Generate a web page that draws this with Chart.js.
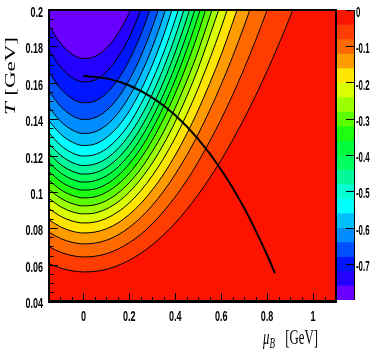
<!DOCTYPE html>
<html>
<head>
<meta charset="utf-8">
<script src="https://cdn.jsdelivr.net/npm/chart.js@4.4.1/dist/chart.umd.min.js"></script>
<style>
  html, body { margin: 0; padding: 0; background: #fff; }
  #wrap { position: relative; width: 382px; height: 354px; }
  #main { position: absolute; left: 0; top: 0; }
  #palette { position: absolute; left: 330px; top: 0; }
</style>
</head>
<body>
<div id="wrap">
  <canvas id="main" width="382" height="354"></canvas>
  <canvas id="palette" width="52" height="354"></canvas>
</div>
<script>
// mu_B grid (GeV) shared by every contour line
const muGrid = [-0.15, -0.1, -0.05, 0, 0.05, 0.1, 0.15, 0.2, 0.25, 0.3, 0.35, 0.4, 0.45, 0.5, 0.6, 0.7, 0.8, 0.9, 1.0];

// T (GeV) of each contour along muGrid (last value lies just past the top)
const c04 = [0.0605, 0.0581, 0.0566, 0.0560, 0.0563, 0.0574, 0.0595, 0.0624, 0.0662, 0.0709, 0.0765, 0.0829, 0.0903, 0.0985, 0.1176, 0.1403, 0.1665, 0.1962, 0.2295];
const c08 = [0.0698, 0.0668, 0.0650, 0.0642, 0.0646, 0.0660, 0.0685, 0.0721, 0.0767, 0.0825, 0.0894, 0.0973, 0.1063, 0.1165, 0.1400, 0.1678, 0.2000, 0.2366];
const c12 = [0.0778, 0.0744, 0.0723, 0.0714, 0.0718, 0.0734, 0.0763, 0.0805, 0.0859, 0.0926, 0.1005, 0.1097, 0.1201, 0.1318, 0.1590, 0.1912, 0.2284];
const c16 = [0.0846, 0.0808, 0.0784, 0.0774, 0.0779, 0.0797, 0.0829, 0.0876, 0.0936, 0.1011, 0.1099, 0.1202, 0.1319, 0.1450, 0.1754, 0.2114];
const c20 = [0.0908, 0.0866, 0.0840, 0.0829, 0.0834, 0.0854, 0.0890, 0.0940, 0.1007, 0.1089, 0.1186, 0.1298, 0.1426, 0.1570, 0.1903, 0.2298];
const c24 = [0.0964, 0.0919, 0.0891, 0.0879, 0.0884, 0.0906, 0.0944, 0.0999, 0.1071, 0.1159, 0.1264, 0.1386, 0.1525, 0.1680, 0.2040];
const c28 = [0.1014, 0.0966, 0.0936, 0.0923, 0.0929, 0.0952, 0.0993, 0.1051, 0.1127, 0.1222, 0.1333, 0.1463, 0.1610, 0.1775, 0.2158];
const c32 = [0.1064, 0.1013, 0.0981, 0.0967, 0.0973, 0.0998, 0.1041, 0.1103, 0.1185, 0.1285, 0.1404, 0.1542, 0.1699, 0.1874, 0.2282];
const c36 = [0.1112, 0.1058, 0.1024, 0.1010, 0.1016, 0.1042, 0.1088, 0.1154, 0.1240, 0.1346, 0.1471, 0.1617, 0.1783, 0.1968, 0.2399];
const c40 = [0.1161, 0.1105, 0.1069, 0.1054, 0.1061, 0.1088, 0.1136, 0.1205, 0.1295, 0.1407, 0.1539, 0.1692, 0.1865, 0.2060];
const c44 = [0.1211, 0.1151, 0.1114, 0.1098, 0.1105, 0.1134, 0.1185, 0.1257, 0.1352, 0.1469, 0.1608, 0.1769, 0.1952, 0.2158];
const c48 = [0.1265, 0.1202, 0.1162, 0.1145, 0.1153, 0.1183, 0.1237, 0.1314, 0.1414, 0.1538, 0.1685, 0.1855, 0.2049];
const c52 = [0.1324, 0.1257, 0.1215, 0.1197, 0.1205, 0.1237, 0.1294, 0.1375, 0.1482, 0.1613, 0.1768, 0.1948, 0.2153];
const c56 = [0.1390, 0.1319, 0.1274, 0.1255, 0.1263, 0.1298, 0.1358, 0.1445, 0.1559, 0.1698, 0.1864, 0.2057];
const c60 = [0.1465, 0.1389, 0.1341, 0.1321, 0.1330, 0.1367, 0.1432, 0.1525, 0.1646, 0.1795, 0.1973, 0.2179];
const c64 = [0.1552, 0.1471, 0.1420, 0.1398, 0.1408, 0.1447, 0.1516, 0.1616, 0.1745, 0.1905, 0.2095];
const c68 = [0.1656, 0.1568, 0.1513, 0.1490, 0.1499, 0.1542, 0.1617, 0.1724, 0.1865, 0.2037];
const c72 = [0.1780, 0.1687, 0.1629, 0.1605, 0.1615, 0.1660, 0.1739, 0.1852, 0.2000, 0.2182];
const c76 = [0.1913, 0.1818, 0.1758, 0.1734, 0.1744, 0.1790, 0.1870, 0.1986, 0.2137];

const contourLevels = [-0.04, -0.08, -0.12, -0.16, -0.2, -0.24, -0.28, -0.32, -0.36, -0.4,
                       -0.44, -0.48, -0.52, -0.56, -0.6, -0.64, -0.68, -0.72, -0.76];
const contourT = [c04, c08, c12, c16, c20, c24, c28, c32, c36, c40,
                  c44, c48, c52, c56, c60, c64, c68, c72, c76];

// palette bands, from 0 (top) down to -0.8
const bandStep = 0.04;
const paletteColors = [
  "#fc1400", "#ff3d00", "#ff6a00", "#ff9c00", "#ffe600",
  "#d9ff00", "#9cff00", "#5cff00", "#1eff10", "#00ff3a",
  "#00ff60", "#00f79a", "#00ffd2", "#00ffff", "#00bfff",
  "#008cff", "#0050ff", "#0016ff", "#2600ff", "#6a00ff",
];

// thick black curve
const phaseMu = [0, 0.1, 0.2, 0.3, 0.4, 0.5, 0.6, 0.7, 0.8, 0.834];
const phaseT = [0.1637, 0.1624, 0.1585, 0.1518, 0.1421, 0.1290, 0.1122, 0.0912, 0.0653, 0.0553];

const xTicks = [0, 0.2, 0.4, 0.6, 0.8, 1];
const yTicks = [0.04, 0.06, 0.08, 0.1, 0.12, 0.14, 0.16, 0.18, 0.2];
const zTicks = [0, -0.1, -0.2, -0.3, -0.4, -0.5, -0.6, -0.7];

const fmt = (v) => String(+v.toFixed(2));

// narrow text, like the squeezed ROOT fonts
function squeezed(ctx, text, x, y, font, align, sx) {
    ctx.save();
    ctx.translate(x, y);
    ctx.scale(sx, 1);
    ctx.font = font;
    ctx.textAlign = align;
    ctx.textBaseline = "alphabetic";
    ctx.fillStyle = "#000";
    ctx.fillText(text, 0, 0);
    ctx.restore();
}

const frame = {
    id: "frame",
    beforeDraw(chart) {
        const { ctx, chartArea: a } = chart;
        ctx.save();
        ctx.fillStyle = paletteColors[0];
        ctx.fillRect(a.left, a.top, a.right - a.left, a.bottom - a.top);
        ctx.restore();
    },
    afterDraw(chart) {
        const { ctx, chartArea: a } = chart;
        const x = chart.scales.x, y = chart.scales.y;
        ctx.save();
        ctx.strokeStyle = "#000";
        ctx.lineWidth = 1;
        ctx.beginPath();
        // ticks on the bottom axis, pointing up
        for (let i = -3; i <= 22; i++) {
            const px = Math.round(x.getPixelForValue(i * 0.05)) + 0.5;
            const len = i % 4 === 0 ? 8 : 4;
            ctx.moveTo(px, a.bottom);
            ctx.lineTo(px, a.bottom - len);
        }
        // ticks on the left axis, pointing right
        for (let i = 8; i <= 40; i++) {
            const py = Math.round(y.getPixelForValue(i * 0.005)) + 0.5;
            const len = i % 4 === 0 ? 9 : 4.5;
            ctx.moveTo(a.left, py);
            ctx.lineTo(a.left + len, py);
        }
        ctx.stroke();
        // frame
        ctx.lineWidth = 2;
        ctx.strokeRect(a.left, a.top, a.right - a.left, a.bottom - a.top);
        ctx.lineWidth = 3;
        ctx.beginPath();
        ctx.moveTo(a.left - 1, a.bottom + 0.5);
        ctx.lineTo(a.right + 1, a.bottom + 0.5);
        ctx.stroke();
        ctx.restore();

        // tick labels
        const tickFont = "bold 15px 'Liberation Sans', Arial, sans-serif";
        x.ticks.forEach((t) => {
            squeezed(ctx, fmt(t.value), x.getPixelForValue(t.value), 320.5, tickFont, "center", 0.6);
        });
        y.ticks.forEach((t) => {
            squeezed(ctx, fmt(t.value), 43, y.getPixelForValue(t.value) + 7, tickFont, "right", 0.6);
        });

        // y title: T [GeV]
        ctx.save();
        ctx.translate(15, 115);
        ctx.rotate(-Math.PI / 2);
        ctx.scale(1, 0.67);
        ctx.fillStyle = "#000";
        ctx.textBaseline = "alphabetic";
        ctx.font = "italic 23px 'Liberation Serif', 'Times New Roman', serif";
        ctx.textAlign = "left";
        ctx.fillText("T", 0, 0);
        ctx.font = "23px 'Liberation Serif', 'Times New Roman', serif";
        ctx.textAlign = "right";
        ctx.fillText("[GeV]", 78, 0);
        ctx.restore();

        // x title: mu_B [GeV]
        ctx.save();
        ctx.translate(263, 344);
        ctx.scale(0.64, 1);
        ctx.fillStyle = "#000";
        ctx.textBaseline = "alphabetic";
        ctx.textAlign = "left";
        ctx.font = "italic 20px 'Liberation Serif', 'Times New Roman', serif";
        ctx.fillText("μ", 0, 0);
        const mw = ctx.measureText("μ").width;
        ctx.font = "italic 14px 'Liberation Serif', 'Times New Roman', serif";
        ctx.fillText("B", mw, 4);
        ctx.restore();
        squeezed(ctx, "[GeV]", 318, 344, "20px 'Liberation Serif', 'Times New Roman', serif", "right", 0.64);
    },
};

const datasets = [{
    label: "boundary",
    data: phaseMu.map((m, i) => ({ x: m, y: phaseT[i] })),
    borderColor: "#000",
    borderWidth: 2,
    pointRadius: 0,
    fill: false,
    cubicInterpolationMode: "monotone",
}];
// innermost contour first so it is painted last (on top)
for (let k = contourT.length - 1; k >= 0; k--) {
    datasets.push({
        label: String(contourLevels[k]),
        data: contourT[k].map((t, i) => ({ x: muGrid[i], y: t })),
        borderColor: "#000",
        borderWidth: 1,
        pointRadius: 0,
        fill: "end",
        backgroundColor: paletteColors[k + 1],
        cubicInterpolationMode: "monotone",
    });
}

new Chart(document.getElementById("main"), {
    type: "line",
    data: { datasets: datasets },
    options: {
        responsive: false,
        animation: false,
        layout: { padding: { left: 0, top: 10, right: 46, bottom: 0 } },
        scales: {
            x: {
                type: "linear",
                min: -0.15,
                max: 1.1,
                grid: { display: false },
                border: { display: false },
                ticks: { display: false },
                afterBuildTicks: (s) => { s.ticks = xTicks.map((v) => ({ value: v })); },
                afterFit: (s) => { s.height = 53; },
            },
            y: {
                type: "linear",
                min: 0.04,
                max: 0.2,
                grid: { display: false },
                border: { display: false },
                ticks: { display: false },
                afterBuildTicks: (s) => { s.ticks = yTicks.map((v) => ({ value: v })); },
                afterFit: (s) => { s.width = 49; },
            },
        },
        plugins: { legend: { display: false }, tooltip: { enabled: false } },
    },
    plugins: [frame],
});

// colour palette on the right
const paletteAxis = {
    id: "paletteAxis",
    afterDraw(chart) {
        const { ctx, chartArea: a } = chart;
        const y = chart.scales.y;
        ctx.save();
        ctx.strokeStyle = "#000";
        ctx.lineWidth = 1;
        ctx.beginPath();
        ctx.moveTo(a.right + 0.5, a.top);
        ctx.lineTo(a.right + 0.5, a.bottom);
        zTicks.forEach((v) => {
            const py = Math.round(y.getPixelForValue(v)) + 0.5;
            ctx.moveTo(a.right, py);
            ctx.lineTo(a.right - 8, py);
        });
        ctx.stroke();
        ctx.restore();
        zTicks.forEach((v) => {
            squeezed(ctx, fmt(v), a.right + 2, y.getPixelForValue(v) + 7,
                "bold 14px 'Liberation Sans', Arial, sans-serif", "left", 0.56);
        });
    },
};

new Chart(document.getElementById("palette"), {
    type: "bar",
    data: {
        labels: [""],
        datasets: paletteColors.map((c) => ({
            data: [-bandStep],
            backgroundColor: c,
            borderWidth: 0,
            barPercentage: 1,
            categoryPercentage: 1,
        })),
    },
    options: {
        responsive: false,
        animation: false,
        layout: { padding: { left: 7, right: 28, top: 10, bottom: 54 } },
        scales: {
            x: { display: false, stacked: true },
            y: { display: false, stacked: true, min: -0.8, max: 0 },
        },
        plugins: { legend: { display: false }, tooltip: { enabled: false } },
    },
    plugins: [paletteAxis],
});
</script>
</body>
</html>
